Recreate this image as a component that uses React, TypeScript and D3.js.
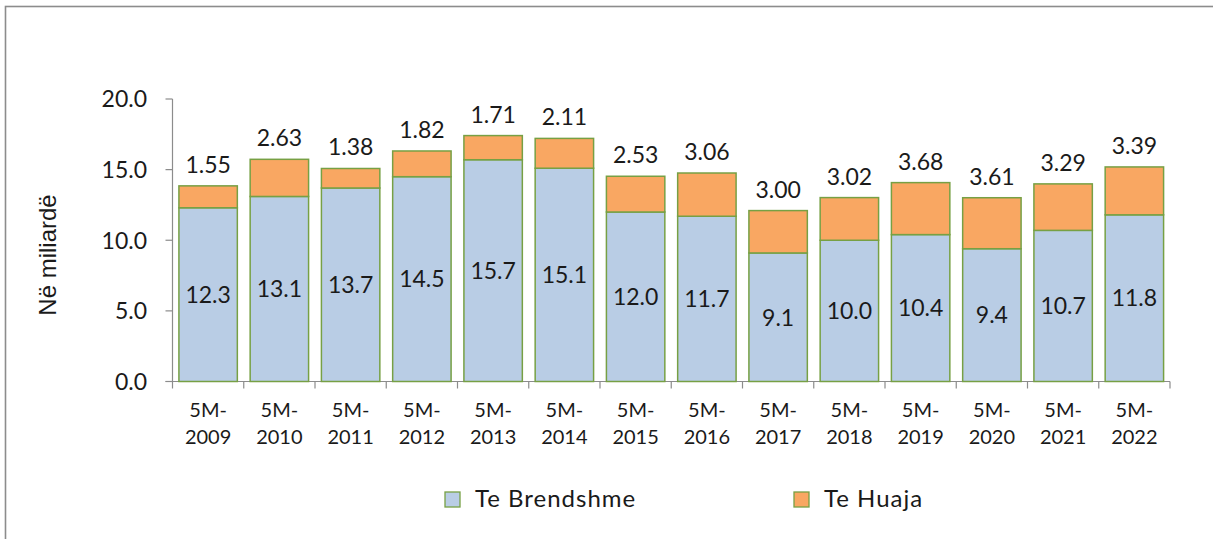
import { useEffect, useRef } from "react";
import * as d3 from "d3";

const CATEGORIES = [
  "5M-2009", "5M-2010", "5M-2011", "5M-2012", "5M-2013", "5M-2014", "5M-2015",
  "5M-2016", "5M-2017", "5M-2018", "5M-2019", "5M-2020", "5M-2021", "5M-2022",
];
const DOMESTIC = [12.3, 13.1, 13.7, 14.5, 15.7, 15.1, 12.0, 11.7, 9.1, 10.0, 10.4, 9.4, 10.7, 11.8];
const FOREIGN = [1.55, 2.63, 1.38, 1.82, 1.71, 2.11, 2.53, 3.06, 3.0, 3.02, 3.68, 3.61, 3.29, 3.39];
const Y_TICKS = [0, 5, 10, 15, 20];
const SERIES_NAMES = ["Te Brendshme", "Te Huaja"];

const BLUE = "#b9cde5";
const ORANGE = "#f9a762";
const EDGE = "#77a044";
const AXIS = "#8c8c8c";
const TEXT = "#1a1a1a";
const FONT = "Lato, 'Open Sans', sans-serif";

export default function App() {
  const svgRef = useRef<SVGSVGElement>(null);

  useEffect(() => {
    if (!svgRef.current) return;
    const width = 1213;
    const height = 539;
    const left = 172.5;
    const right = 1170;
    const top = 99;
    const bottom = 381.5;

    const svg = d3.select(svgRef.current);
    svg.selectAll("*").remove();

    // outer frame (runs off the right and bottom edges)
    svg.append("rect")
      .attr("x", 5.5).attr("y", 6.5)
      .attr("width", width + 20).attr("height", height + 20)
      .attr("fill", "white")
      .attr("stroke", AXIS)
      .attr("stroke-width", 1.6);

    const x = d3.scaleBand<string>()
      .domain(CATEGORIES)
      .range([left, right])
      .paddingInner(0.18)
      .paddingOuter(0.09);

    const y = d3.scaleLinear().domain([0, 20]).range([bottom, top]);

    // y axis
    svg.append("line")
      .attr("x1", left).attr("x2", left)
      .attr("y1", top).attr("y2", bottom)
      .attr("stroke", AXIS).attr("stroke-width", 1.2);
    Y_TICKS.forEach((t) => {
      svg.append("line")
        .attr("x1", left - 7).attr("x2", left)
        .attr("y1", y(t)).attr("y2", y(t))
        .attr("stroke", AXIS).attr("stroke-width", 1.2);
      svg.append("text")
        .attr("x", 147).attr("y", y(t))
        .attr("dy", "0.36em")
        .attr("text-anchor", "end")
        .attr("font-family", FONT)
        .attr("font-size", 23)
        .attr("fill", TEXT)
        .text(t.toFixed(1));
    });

    // x axis
    svg.append("line")
      .attr("x1", left - 7).attr("x2", right)
      .attr("y1", bottom).attr("y2", bottom)
      .attr("stroke", AXIS).attr("stroke-width", 1.2);
    const step = x.step();
    d3.range(CATEGORIES.length + 1).forEach((i) => {
      const xp = left + i * step;
      svg.append("line")
        .attr("x1", xp).attr("x2", xp)
        .attr("y1", bottom).attr("y2", bottom + 7)
        .attr("stroke", AXIS).attr("stroke-width", 1.2);
    });

    CATEGORIES.forEach((c) => {
      const cx = x(c)! + x.bandwidth() / 2;
      const [a, b] = c.split("-");
      const t = svg.append("text")
        .attr("text-anchor", "middle")
        .attr("font-family", FONT)
        .attr("font-size", 20)
        .attr("fill", TEXT);
      t.append("tspan").attr("x", cx).attr("y", 417).text(`${a}-`);
      t.append("tspan").attr("x", cx).attr("y", 444).text(b);
    });

    // bars
    CATEGORIES.forEach((c, i) => {
      const bx = x(c)!;
      const bw = x.bandwidth();
      const d = DOMESTIC[i];
      const f = FOREIGN[i];

      svg.append("rect")
        .attr("x", bx).attr("y", y(d))
        .attr("width", bw).attr("height", y(0) - y(d))
        .attr("fill", BLUE)
        .attr("stroke", EDGE).attr("stroke-width", 1.5);
      svg.append("rect")
        .attr("x", bx).attr("y", y(d + f))
        .attr("width", bw).attr("height", y(d) - y(d + f))
        .attr("fill", ORANGE)
        .attr("stroke", EDGE).attr("stroke-width", 1.5);

      svg.append("text")
        .attr("x", bx + bw / 2).attr("y", y(d / 2))
        .attr("dy", "0.36em")
        .attr("text-anchor", "middle")
        .attr("font-family", FONT)
        .attr("font-size", 23)
        .attr("fill", TEXT)
        .text(d.toFixed(1));
      svg.append("text")
        .attr("x", bx + bw / 2).attr("y", y(d + f) - 13)
        .attr("text-anchor", "middle")
        .attr("font-family", FONT)
        .attr("font-size", 23)
        .attr("fill", TEXT)
        .text(f.toFixed(2));
    });

    // y axis title
    svg.append("text")
      .attr("transform", `translate(56, 255) rotate(-90)`)
      .attr("text-anchor", "middle")
      .attr("font-family", "'Liberation Sans', Arial, sans-serif")
      .attr("font-size", 24)
      .attr("fill", TEXT)
      .text("Në miliardë");

    // legend
    const legendItems = [
      { name: SERIES_NAMES[0], color: BLUE, x: 445 },
      { name: SERIES_NAMES[1], color: ORANGE, x: 794 },
    ];
    legendItems.forEach((item) => {
      svg.append("rect")
        .attr("x", item.x).attr("y", 492)
        .attr("width", 15).attr("height", 15)
        .attr("fill", item.color)
        .attr("stroke", EDGE).attr("stroke-width", 1.3);
      svg.append("text")
        .attr("x", item.x + 30).attr("y", 507)
        .attr("font-family", FONT)
        .attr("font-size", 24)
        .attr("letter-spacing", 1)
        .attr("fill", TEXT)
        .text(item.name);
    });
  }, []);

  return (
    <svg
      ref={svgRef}
      width={1213}
      height={539}
      style={{ position: "absolute", left: 0, top: 0, display: "block" }}
    />
  );
}
